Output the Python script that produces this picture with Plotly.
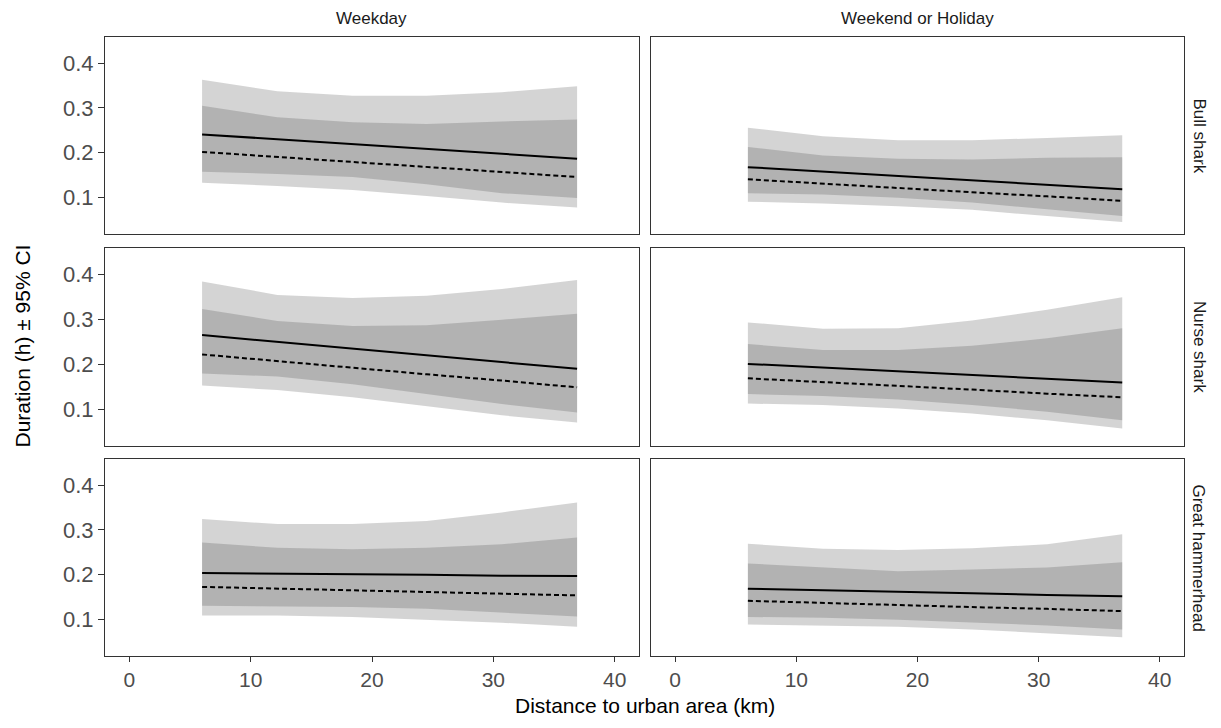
import plotly.graph_objects as go

# ---------------- data ----------------
species = ["Bull shark", "Nurse shark", "Great hammerhead"]
day_types = ["Weekday", "Weekend or Holiday"]
x_km = [6.0, 12.2, 18.4, 24.5, 30.7, 36.9]

# fitted values (solid = group A, dashed = group B) and 95% CI bounds
# keys: (species, day type)
solid_fit = {
    ("Bull shark", "Weekday"): [0.241, 0.230, 0.219, 0.209, 0.198, 0.187],
    ("Bull shark", "Weekend or Holiday"): [0.168, 0.158, 0.148, 0.139, 0.129, 0.119],
    ("Nurse shark", "Weekday"): [0.265, 0.250, 0.235, 0.220, 0.205, 0.190],
    ("Nurse shark", "Weekend or Holiday"): [0.201, 0.193, 0.185, 0.176, 0.168, 0.160],
    ("Great hammerhead", "Weekday"): [0.204, 0.203, 0.201, 0.200, 0.198, 0.197],
    ("Great hammerhead", "Weekend or Holiday"): [0.169, 0.166, 0.162, 0.159, 0.155, 0.152],
}
solid_lo = {
    ("Bull shark", "Weekday"): [0.158, 0.153, 0.146, 0.130, 0.110, 0.099],
    ("Bull shark", "Weekend or Holiday"): [0.110, 0.107, 0.100, 0.089, 0.074, 0.059],
    ("Nurse shark", "Weekday"): [0.180, 0.173, 0.156, 0.134, 0.112, 0.093],
    ("Nurse shark", "Weekend or Holiday"): [0.134, 0.130, 0.122, 0.110, 0.095, 0.076],
    ("Great hammerhead", "Weekday"): [0.131, 0.130, 0.128, 0.124, 0.116, 0.107],
    ("Great hammerhead", "Weekend or Holiday"): [0.106, 0.104, 0.100, 0.094, 0.087, 0.078],
}
solid_hi = {
    ("Bull shark", "Weekday"): [0.363, 0.337, 0.327, 0.327, 0.335, 0.348],
    ("Bull shark", "Weekend or Holiday"): [0.256, 0.237, 0.228, 0.228, 0.233, 0.239],
    ("Nurse shark", "Weekday"): [0.384, 0.354, 0.347, 0.352, 0.367, 0.387],
    ("Nurse shark", "Weekend or Holiday"): [0.293, 0.279, 0.280, 0.297, 0.321, 0.349],
    ("Great hammerhead", "Weekday"): [0.324, 0.313, 0.313, 0.320, 0.339, 0.361],
    ("Great hammerhead", "Weekend or Holiday"): [0.269, 0.258, 0.255, 0.259, 0.268, 0.290],
}
dashed_fit = {
    ("Bull shark", "Weekday"): [0.202, 0.191, 0.180, 0.168, 0.157, 0.146],
    ("Bull shark", "Weekend or Holiday"): [0.141, 0.131, 0.122, 0.112, 0.103, 0.093],
    ("Nurse shark", "Weekday"): [0.222, 0.207, 0.193, 0.178, 0.164, 0.149],
    ("Nurse shark", "Weekend or Holiday"): [0.169, 0.161, 0.152, 0.144, 0.135, 0.127],
    ("Great hammerhead", "Weekday"): [0.173, 0.169, 0.165, 0.162, 0.158, 0.154],
    ("Great hammerhead", "Weekend or Holiday"): [0.142, 0.137, 0.133, 0.128, 0.124, 0.119],
}
dashed_lo = {
    ("Bull shark", "Weekday"): [0.133, 0.126, 0.117, 0.104, 0.089, 0.078],
    ("Bull shark", "Weekend or Holiday"): [0.091, 0.087, 0.081, 0.073, 0.059, 0.046],
    ("Nurse shark", "Weekday"): [0.153, 0.143, 0.127, 0.107, 0.087, 0.071],
    ("Nurse shark", "Weekend or Holiday"): [0.113, 0.110, 0.102, 0.091, 0.076, 0.058],
    ("Great hammerhead", "Weekday"): [0.109, 0.109, 0.106, 0.100, 0.093, 0.084],
    ("Great hammerhead", "Weekend or Holiday"): [0.089, 0.087, 0.084, 0.078, 0.070, 0.061],
}
dashed_hi = {
    ("Bull shark", "Weekday"): [0.305, 0.279, 0.268, 0.264, 0.270, 0.274],
    ("Bull shark", "Weekend or Holiday"): [0.213, 0.194, 0.187, 0.185, 0.189, 0.190],
    ("Nurse shark", "Weekday"): [0.323, 0.296, 0.285, 0.287, 0.299, 0.312],
    ("Nurse shark", "Weekend or Holiday"): [0.245, 0.232, 0.232, 0.241, 0.258, 0.280],
    ("Great hammerhead", "Weekday"): [0.272, 0.260, 0.257, 0.260, 0.268, 0.283],
    ("Great hammerhead", "Weekend or Holiday"): [0.225, 0.216, 0.208, 0.212, 0.216, 0.228],
}

x_ticks = [0, 10, 20, 30, 40]
y_ticks = [0.1, 0.2, 0.3, 0.4]
y_tick_labels = ["0.1", "0.2", "0.3", "0.4"]

# ---------------- layout geometry ----------------
# page body has an 8px margin, so the figure is drawn 8px smaller
W, H = 1213, 720
ml, mr, mt, mb = 97, 37, 29, 72
col_dom = [[0.0, 0.4949], [0.506, 1.0]]
row_dom = [[0.6817, 1.0], [0.3393, 0.6591], [0.0, 0.3183]]

FILL = "rgba(60,60,60,0.22)"
AXC = "#333333"
TICKC = "#4d4d4d"
FONT = "Liberation Sans, Arial, Helvetica, sans-serif"

fig = go.Figure()
layout = {}

for r, sp in enumerate(species):
    for c, dt in enumerate(day_types):
        idx = r * 2 + c + 1
        xa = "x" if idx == 1 else f"x{idx}"
        ya = "y" if idx == 1 else f"y{idx}"
        key = (sp, dt)
        # ribbons
        for lo, hi in ((solid_lo[key], solid_hi[key]), (dashed_lo[key], dashed_hi[key])):
            fig.add_trace(go.Scatter(x=x_km, y=lo, mode="lines", line=dict(width=0),
                                     showlegend=False, hoverinfo="skip", xaxis=xa, yaxis=ya))
            fig.add_trace(go.Scatter(x=x_km, y=hi, mode="lines", line=dict(width=0),
                                     fill="tonexty", fillcolor=FILL, showlegend=False,
                                     hoverinfo="skip", xaxis=xa, yaxis=ya))
        fig.add_trace(go.Scatter(x=x_km, y=solid_fit[key], mode="lines",
                                 line=dict(color="black", width=2), showlegend=False,
                                 xaxis=xa, yaxis=ya))
        fig.add_trace(go.Scatter(x=x_km, y=dashed_fit[key], mode="lines",
                                 line=dict(color="black", width=2, dash="5px,3px"),
                                 showlegend=False, xaxis=xa, yaxis=ya))

        xkey = "xaxis" if idx == 1 else f"xaxis{idx}"
        ykey = "yaxis" if idx == 1 else f"yaxis{idx}"
        bottom = (r == 2)
        left = (c == 0)
        layout[xkey] = dict(
            domain=col_dom[c], anchor=ya, range=[-2, 42], tickvals=x_ticks,
            showticklabels=bottom, ticks="outside" if bottom else "", ticklen=5,
            tickcolor=AXC, tickwidth=1.2, showgrid=False, zeroline=False,
            showline=True, mirror=True, linecolor=AXC, linewidth=1.2,
            tickfont=dict(family=FONT, size=21, color=TICKC),
        )
        layout[ykey] = dict(
            domain=row_dom[r], anchor=xa, range=[0.019, 0.458], tickvals=y_ticks,
            ticktext=y_tick_labels, showticklabels=left,
            ticks="outside" if left else "", ticklen=6, tickcolor=AXC, tickwidth=1.2,
            showgrid=False, zeroline=False, showline=True, mirror=True,
            linecolor=AXC, linewidth=1.2,
            tickfont=dict(family=FONT, size=22, color=TICKC),
        )

annotations = []
for c, dt in enumerate(day_types):
    annotations.append(dict(text=dt, x=sum(col_dom[c]) / 2, y=1.0, xref="paper", yref="paper",
                            xanchor="center", yanchor="middle", yshift=19, showarrow=False,
                            font=dict(family=FONT, size=17, color="#1a1a1a")))
for r, sp in enumerate(species):
    annotations.append(dict(text=sp, x=1.0, y=sum(row_dom[r]) / 2, xref="paper", yref="paper",
                            xanchor="center", yanchor="middle", xshift=15, textangle=90,
                            showarrow=False,
                            font=dict(family=FONT, size=17, color="#1a1a1a")))
annotations.append(dict(text="Distance to urban area (km)", x=0.5, y=0, xref="paper",
                        yref="paper", xanchor="center", yanchor="middle", yshift=-49,
                        showarrow=False, font=dict(family=FONT, size=21, color="black")))
annotations.append(dict(text="Duration (h) ± 95% CI", x=0, y=0.5, xref="paper",
                        yref="paper", xanchor="center", yanchor="middle", xshift=-83,
                        textangle=-90, showarrow=False,
                        font=dict(family=FONT, size=21, color="black")))

fig.update_layout(
    width=W, height=H, margin=dict(l=ml, r=mr, t=mt, b=mb),
    paper_bgcolor="white", plot_bgcolor="white", annotations=annotations,
    font=dict(family=FONT), **layout,
)

fig.write_html("out.html")
